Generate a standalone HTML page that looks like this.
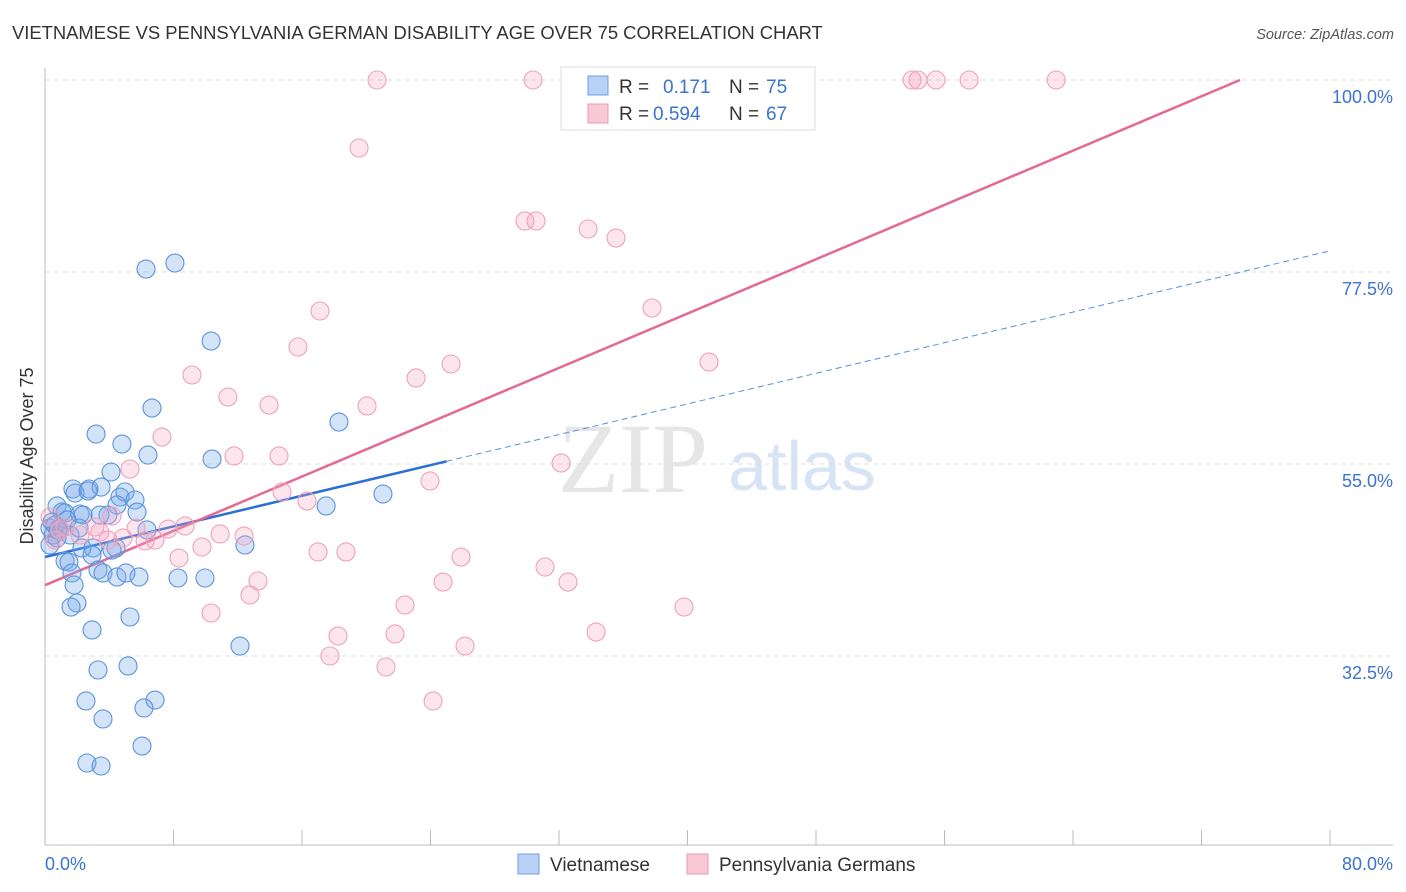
<!DOCTYPE html>
<html><head><meta charset="utf-8"><style>
body{margin:0;background:#fff;font-family:"Liberation Sans",sans-serif;}
svg{display:block}
</style></head><body>
<svg id="c" width="1406" height="892">
<text x="12" y="39" font-size="18.4" fill="#333">VIETNAMESE VS PENNSYLVANIA GERMAN DISABILITY AGE OVER 75 CORRELATION CHART</text>
<text x="1394" y="39" font-size="14.5" fill="#555" font-style="italic" text-anchor="end">Source: ZipAtlas.com</text>
<text x="33" y="456" font-size="18" fill="#333" text-anchor="middle" transform="rotate(-90 33 456)">Disability Age Over 75</text>
<g><text x="633" y="492" font-family="Liberation Serif,serif" font-size="100" fill="#e6e6e6" text-anchor="middle">ZIP</text><text x="802" y="490" font-size="70" fill="#d6e4f5" text-anchor="middle">atlas</text></g>
<g id="grid"></g><g id="axes"></g><g id="trend"></g><g id="pts"></g>
<g>
<rect x="561" y="67" width="254" height="63" fill="#fff" stroke="#ddd"/>
<rect x="588" y="76" width="20" height="19" fill="#b7d2f5" stroke="#6a9fe0"/>
<rect x="588" y="104" width="20" height="19" fill="#f8c8d6" stroke="#eb98b2"/>
<text x="619" y="93" font-size="19" fill="#333">R = </text><text x="663" y="93" font-size="19" fill="#3a73d0">0.171</text>
<text x="729" y="93" font-size="19" fill="#333">N = </text><text x="766" y="93" font-size="19" fill="#3a73d0">75</text>
<text x="619" y="120" font-size="19" fill="#333">R = </text><text x="653" y="120" font-size="19" fill="#3a73d0">0.594</text>
<text x="729" y="120" font-size="19" fill="#333">N = </text><text x="766" y="120" font-size="19" fill="#3a73d0">67</text>
</g>
<g>
<rect x="518" y="854" width="21" height="20" fill="#b7d2f5" stroke="#6a9fe0"/>
<text x="550" y="871" font-size="19" fill="#333">Vietnamese</text>
<rect x="687" y="854" width="21" height="20" fill="#f8c8d6" stroke="#eb98b2"/>
<text x="719" y="871" font-size="19" fill="#333">Pennsylvania Germans</text>
</g>
</svg>
<script>
const yTicks=[100,77.5,55,32.5];
const yTickLabels=["100.0%","77.5%","55.0%","32.5%"];
const xEndLabels=["0.0%","80.0%"];
const blueX=[6.29,8.09,10.34,6.66,18.30,3.18,4.79,6.41,10.40,4.11,21.04,17.50,1.74,1.87,2.74,3.49,2.68,4.67,4.98,5.60,4.48,0.75,1.06,1.25,2.18,2.37,3.92,5.73,3.42,1.37,0.44,0.31,0.62,0.93,0.50,0.75,1.56,2.12,6.35,4.42,2.99,2.30,12.45,2.93,1.25,1.49,3.30,3.61,1.68,4.48,5.04,5.85,8.28,9.96,1.81,1.99,1.62,5.29,2.93,12.14,5.17,3.30,6.85,2.55,6.16,3.61,6.04,2.61,3.49,0.31,0.81,4.17];
const blueY=[77.85,78.55,69.41,61.56,59.92,58.51,57.34,56.05,55.58,54.06,51.48,50.08,52.07,51.60,52.07,52.30,51.84,51.13,51.72,50.78,50.20,50.08,49.37,49.26,49.14,49.02,49.02,49.37,49.02,48.44,48.20,47.50,47.85,47.27,46.68,46.33,46.68,47.50,47.27,45.16,45.16,45.16,45.51,44.33,43.63,43.51,42.58,42.23,42.23,41.76,42.23,41.76,41.64,41.64,40.82,38.71,38.24,37.07,35.55,33.67,31.33,30.86,27.34,27.23,26.41,25.12,21.95,19.96,19.61,45.51,47.27,44.92];
const pinkX=[20.67,30.38,53.98,54.35,55.47,57.53,62.95,19.55,29.88,30.57,33.81,35.55,37.79,17.12,15.75,41.34,25.28,9.15,23.10,11.39,13.95,20.05,7.28,11.77,14.57,5.29,32.13,23.97,14.76,16.31,0.31,4.17,1.25,3.11,3.42,5.67,3.92,4.86,6.23,6.85,7.66,8.72,10.90,12.39,9.77,17.00,18.74,8.34,25.90,31.13,13.26,24.78,32.56,12.76,22.41,39.78,10.34,18.24,21.79,34.31,26.15,17.74,21.23,24.16,0.93,2.18,0.62];
const pinkY=[100,100,100,100,100,100,100,92.03,83.48,83.48,82.54,81.48,73.28,72.93,68.71,66.95,66.72,65.43,65.08,62.85,61.91,61.80,58.16,55.94,55.94,54.41,55.12,53.01,51.72,50.66,48.79,48.91,47.62,47.62,47.03,47.50,46.09,46.33,45.98,46.09,47.38,47.73,46.80,46.56,45.27,44.69,44.69,43.98,44.10,42.93,41.29,41.17,41.17,39.65,38.48,38.24,37.54,34.84,35.08,35.31,33.67,32.50,31.21,27.23,47.27,46.68,46.09];
const blueTrend=[44.1,0.4485]; // intercept, slope
const blueSolidEnd=[25.0];
const pinkTrend=[40.8,0.7957];
const pinkEnd=[74.4];
const NS="http://www.w3.org/2000/svg";
const X=v=>45+v/80*1285;
const Y=v=>80+(100-v)*192/22.5;
function mk(t,a,p){const e=document.createElementNS(NS,t);for(const k in a)e.setAttribute(k,a[k]);document.getElementById(p).appendChild(e);return e;}
yTicks.forEach((t,i)=>{
 const g=mk('line',{x1:45,x2:1393,y1:Y(t),y2:Y(t),stroke:'#ddd','stroke-dasharray':'5,4'},'grid');
 
 
 const l=mk('text',{x:1393,y:Y(t)+23,'font-size':18,fill:'#3a73d0','text-anchor':'end'},'grid');l.textContent=yTickLabels[i];
 
 
});
const ax=mk('line',{x1:45,x2:45,y1:68,y2:845,stroke:'#bbb'},'axes');


const bx=mk('line',{x1:45,x2:1393,y1:845,y2:845,stroke:'#bbb'},'axes');


for(let i=0;i<=10;i++){const t=mk('line',{x1:X(i*8),x2:X(i*8),y1:830,y2:845,stroke:'#bbb'},'axes');
 
 }
[[0,'start',45],[1,'end',1393]].forEach(([i,a,x])=>{const t=mk('text',{x:x,y:870,'font-size':18,fill:'#3a73d0','text-anchor':a},'axes');t.textContent=xEndLabels[i];
 
 });
const bt=v=>blueTrend[0]+blueTrend[1]*v, pt=v=>pinkTrend[0]+pinkTrend[1]*v;
const l1=mk('line',{x1:X(0),y1:Y(bt(0)),x2:X(blueSolidEnd[0]),y2:Y(bt(blueSolidEnd[0])),stroke:'#2a6fd6','stroke-width':2.5},'trend');


const l2=mk('line',{x1:X(blueSolidEnd[0]),y1:Y(bt(blueSolidEnd[0])),x2:X(80),y2:Y(bt(80)),stroke:'#5a8fdc','stroke-width':1,'stroke-dasharray':'6,4'},'trend');


const l3=mk('line',{x1:X(0),y1:Y(pt(0)),x2:X(pinkEnd[0]),y2:Y(pt(pinkEnd[0])),stroke:'#e46a94','stroke-width':2.5},'trend');


blueX.forEach((x,i)=>{const c=mk('circle',{cx:X(x),cy:Y(blueY[i]),r:9,fill:'rgba(120,170,235,0.33)',stroke:'#5b93dc','stroke-width':1.1},'pts');
 
 });
pinkX.forEach((x,i)=>{const c=mk('circle',{cx:X(x),cy:Y(pinkY[i]),r:9,fill:'rgba(244,160,190,0.28)',stroke:'#eda2bb','stroke-width':1.1},'pts');
 
 });
</script>
</body></html>
